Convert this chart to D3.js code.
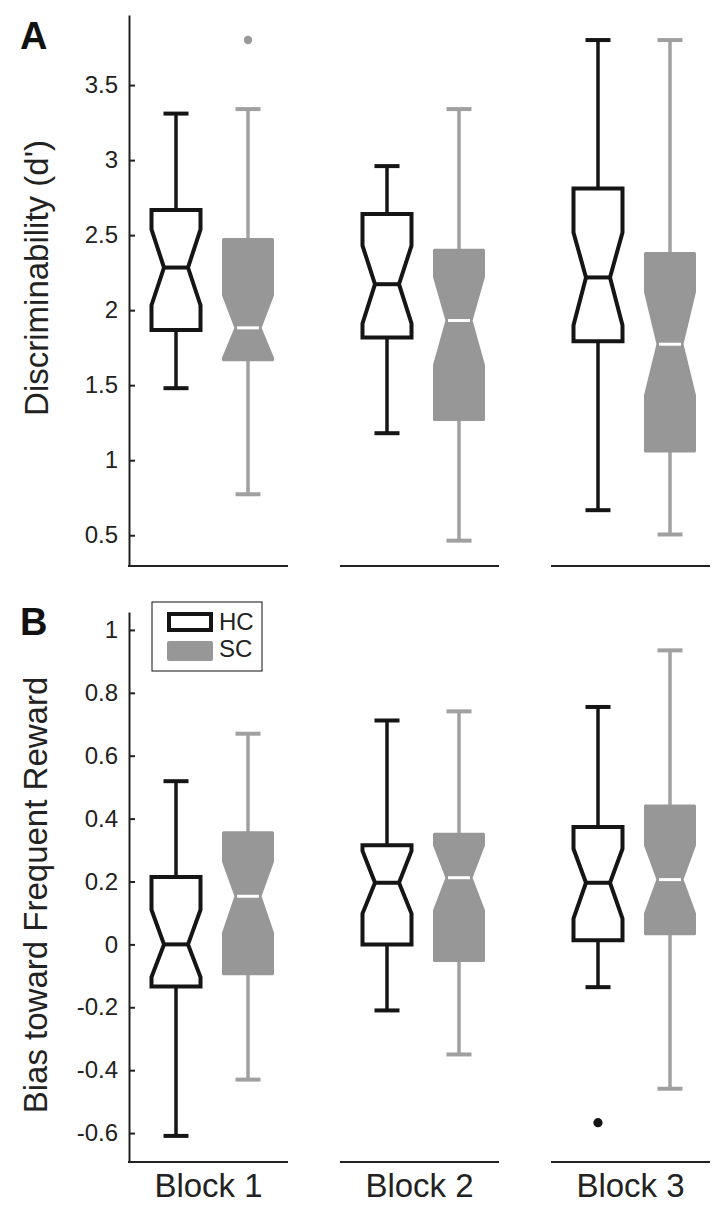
<!DOCTYPE html>
<html><head><meta charset="utf-8">
<script src="https://cdn.jsdelivr.net/npm/d3@7"></script>
<style>body{margin:0;background:#fff}text{font-family:"Liberation Sans",Arial,sans-serif}</style>
</head><body><svg id="c" width="727" height="1213"></svg>
<script>
// ---------------- DATA ----------------
const blocks = ["Block 1", "Block 2", "Block 3"];
const groups = ["HC", "SC"];
// each row: [whiskerLow, q1, notchLow, median, notchHigh, q3, whiskerHigh]
const dprimeHC = [
  [1.48, 1.867, 2.033, 2.284, 2.538, 2.667, 3.31],
  [1.18, 1.818, 1.911, 2.173, 2.43, 2.64, 2.96],
  [0.667, 1.793, 1.90, 2.218, 2.518, 2.811, 3.80]
];
const dprimeSC = [
  [0.773, 1.67, 1.68, 1.882, 2.10, 2.471, 3.34],
  [0.464, 1.271, 1.633, 1.931, 2.222, 2.40, 3.34],
  [0.505, 1.062, 1.433, 1.773, 2.122, 2.378, 3.80]
];
const dprimeOutlierBlocks = ["Block 1"];
const dprimeOutlierGroups = ["SC"];
const dprimeOutlierValues = [3.80];

const biasHC = [
  [-0.609, -0.134, -0.104, 0.0, 0.110, 0.214, 0.519],
  [-0.21, 0.0, 0.098, 0.196, 0.297, 0.315, 0.712],
  [-0.136, 0.013, 0.082, 0.196, 0.304, 0.373, 0.755]
];
const biasSC = [
  [-0.43, -0.093, 0.036, 0.153, 0.264, 0.355, 0.67],
  [-0.35, -0.051, 0.108, 0.212, 0.315, 0.35, 0.741],
  [-0.459, 0.034, 0.098, 0.206, 0.315, 0.44, 0.935]
];
const biasOutlierBlocks = ["Block 3"];
const biasOutlierGroups = ["HC"];
const biasOutlierValues = [-0.567];

const dprimeTicks = [0.5, 1, 1.5, 2, 2.5, 3, 3.5];
const dprimeTickLabels = ["0.5", "1", "1.5", "2", "2.5", "3", "3.5"];
const biasTicks = [-0.6, -0.4, -0.2, 0, 0.2, 0.4, 0.6, 0.8, 1];
const biasTickLabels = ["-0.6", "-0.4", "-0.2", "0", "0.2", "0.4", "0.6", "0.8", "1"];

const titleA = "Discriminability (d')";
const titleB = "Bias toward Frequent Reward";

// ---------------- DRAW ----------------
const svg = d3.select("#c");
const BLACK = "#151515", GRAY = "#979797", WGRAY = "#a0a0a0", AX = "#222";

const xBlock = d3.scaleBand().domain(blocks).range([129, 710]).paddingInner(0.2464);
const xGroup = d3.scalePoint().domain(groups).range([47, 119]);
const cx = (b, g) => xBlock(b) + xGroup(g);

const yA = d3.scaleLinear().domain([0.295, 3.967]).range([566, 15]);
const yB = d3.scaleLinear().domain([-0.692, 1.057]).range([1162, 612]);

function panel(y, dataHC, dataSC, ticks, tickLabels, outB, outG, outV, outColor, outR) {
  const g = svg.append("g");
  // y axis
  const ax = d3.axisLeft(y).tickValues(ticks).tickFormat((d, i) => tickLabels[i])
    .tickSizeInner(-6).tickSizeOuter(0).tickPadding(11);
  const ag = g.append("g").attr("transform", "translate(129,0)").call(ax);
  ag.select(".domain").attr("stroke", AX).attr("stroke-width", 2);
  ag.selectAll(".tick line").attr("stroke", AX).attr("stroke-width", 2);
  ag.selectAll(".tick text").attr("fill", "#222").style("font-size", "24px")
    .style("font-family", '"Liberation Sans",Arial,sans-serif');
  // broken x axis
  const y0 = y.range()[0];
  g.selectAll(".xseg").data(blocks).enter().append("line")
    .attr("x1", d => xBlock(d) - (d === blocks[0] ? 1 : 0))
    .attr("x2", d => xBlock(d) + xBlock.bandwidth())
    .attr("y1", y0).attr("y2", y0).attr("stroke", AX).attr("stroke-width", 2);

  const W = 24.5, NW = 12, CAP = 12.5;
  const items = [];
  blocks.forEach((b, i) => {
    items.push({ b, g: "HC", s: dataHC[i] });
    items.push({ b, g: "SC", s: dataSC[i] });
  });
  items.forEach(it => {
    const c = cx(it.b, it.g);
    const [wl, q1, nl, md, nh, q3, wh] = it.s;
    const col = it.g === "HC" ? BLACK : WGRAY;
    // whiskers
    g.append("line").attr("x1", c).attr("x2", c).attr("y1", y(q3)).attr("y2", y(wh))
      .attr("stroke", col).attr("stroke-width", 3.5);
    g.append("line").attr("x1", c).attr("x2", c).attr("y1", y(q1)).attr("y2", y(wl))
      .attr("stroke", col).attr("stroke-width", 3.5);
    [wh, wl].forEach(v => {
      g.append("line").attr("x1", c - CAP).attr("x2", c + CAP).attr("y1", y(v)).attr("y2", y(v))
        .attr("stroke", col).attr("stroke-width", 4);
    });
    const pts = [
      [c - W, y(q3)], [c + W, y(q3)], [c + W, y(nh)], [c + NW, y(md)], [c + W, y(nl)],
      [c + W, y(q1)], [c - W, y(q1)], [c - W, y(nl)], [c - NW, y(md)], [c - W, y(nh)]
    ];
    const path = "M" + pts.map(p => p.join(",")).join("L") + "Z";
    if (it.g === "HC") {
      g.append("path").attr("d", path).attr("fill", "#fff").attr("stroke", BLACK)
        .attr("stroke-width", 4).attr("stroke-linejoin", "miter");
      g.append("line").attr("x1", c - NW).attr("x2", c + NW).attr("y1", y(md)).attr("y2", y(md))
        .attr("stroke", BLACK).attr("stroke-width", 4);
    } else {
      g.append("path").attr("d", path).attr("fill", GRAY).attr("stroke", GRAY)
        .attr("stroke-width", 3).attr("stroke-linejoin", "round");
      g.append("line").attr("x1", c - NW + 1).attr("x2", c + NW - 1).attr("y1", y(md)).attr("y2", y(md))
        .attr("stroke", "#fff").attr("stroke-width", 3);
    }
  });
  outV.forEach((v, i) => {
    g.append("circle").attr("cx", cx(outB[i], outG[i])).attr("cy", y(v)).attr("r", outR)
      .attr("fill", outColor);
  });
  return g;
}

panel(yA, dprimeHC, dprimeSC, dprimeTicks, dprimeTickLabels,
  dprimeOutlierBlocks, dprimeOutlierGroups, dprimeOutlierValues, "#999", 4.2);
panel(yB, biasHC, biasSC, biasTicks, biasTickLabels,
  biasOutlierBlocks, biasOutlierGroups, biasOutlierValues, BLACK, 4.6);

// axis titles
svg.append("text").attr("transform", "translate(48,278) rotate(-90)").attr("text-anchor", "middle")
  .style("font-size", "33px").attr("fill", "#222").text(titleA);
svg.append("text").attr("transform", "translate(47,895) rotate(-90)").attr("text-anchor", "middle")
  .style("font-size", "33px").attr("fill", "#222").text(titleB);

// panel letters
svg.append("text").attr("x", 20).attr("y", 49).style("font-size", "38px").style("font-weight", "bold")
  .attr("fill", "#111").text("A");
svg.append("text").attr("x", 20).attr("y", 635).style("font-size", "38px").style("font-weight", "bold")
  .attr("fill", "#111").text("B");

// block labels
svg.selectAll(".blab").data(blocks).enter().append("text")
  .attr("x", d => xBlock(d) + xBlock.bandwidth() / 2).attr("y", 1197)
  .attr("text-anchor", "middle").style("font-size", "33px").attr("fill", "#222").text(d => d);

// legend
const lg = svg.append("g");
lg.append("rect").attr("x", 152).attr("y", 602).attr("width", 110).attr("height", 69)
  .attr("fill", "#fff").attr("stroke", "#111").attr("stroke-width", 1);
lg.append("rect").attr("x", 169).attr("y", 614).attr("width", 42).attr("height", 16)
  .attr("fill", "#fff").attr("stroke", BLACK).attr("stroke-width", 4);
lg.append("rect").attr("x", 167).attr("y", 641).attr("width", 46).attr("height", 20).attr("rx", 2)
  .attr("fill", GRAY);
lg.selectAll(".lt").data(groups).enter().append("text")
  .attr("x", 219).attr("y", (d, i) => 630 + i * 27).style("font-size", "24px").attr("fill", "#222")
  .text(d => d);
</script></body></html>
